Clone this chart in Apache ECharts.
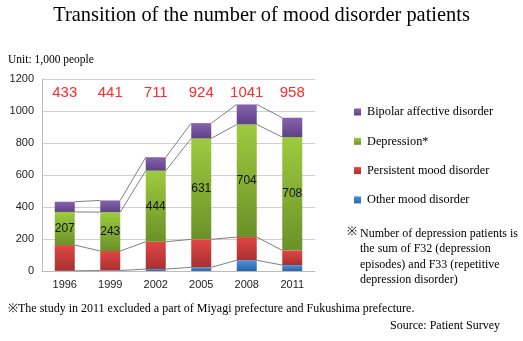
<!DOCTYPE html>
<html><head><meta charset="utf-8">
<script src="https://cdn.jsdelivr.net/npm/echarts@6/dist/echarts.min.js"></script>
<style>html,body{margin:0;padding:0;background:#fff}#c{width:523px;height:341px}</style>
</head><body><div id="c"></div>
<script>
var years = ['1996','1999','2002','2005','2008','2011'];
var otherMood = [1, 3, 12, 23, 67, 37];
var persistent = [161, 122, 171, 175, 145, 92];
var depression = [207, 243, 444, 631, 704, 708];
var bipolar = [64, 73, 84, 95, 125, 121];
var totals = [433, 441, 711, 924, 1041, 958];
var yTicks = [0, 200, 400, 600, 800, 1000, 1200];

var stacks = [otherMood, persistent, depression, bipolar];
var cum = stacks.map(function(_, k){
  return years.map(function(__, i){
    var s = 0; for (var j = 0; j <= k; j++) s += stacks[j][i]; return s;
  });
});
var BW = 20;
function grad(top, bottom){
  return new echarts.graphic.LinearGradient(0,0,0,1,[{offset:0,color:top},{offset:1,color:bottom}]);
}
var serif = '"Liberation Serif","DejaVu Serif",serif';
var sans = '"Liberation Sans",Arial,sans-serif';
var chart = echarts.init(document.getElementById('c'), null, {renderer:'canvas'});
chart.setOption({
  animation:false,
  title:{text:'Transition of the number of mood disorder patients', left:'center', top:1,
    textStyle:{fontFamily:serif, fontSize:20.4, fontWeight:'normal', color:'#000'}},
  grid:{left:42, right:208, top:79, bottom:70},
  legend:{orient:'vertical', left:349, top:101, itemGap:17.3, itemWidth:7, itemHeight:7, icon:'rect',
    data:['Bipolar affective disorder','Depression*','Persistent mood disorder','Other mood disorder'],
    textStyle:{fontFamily:serif, fontSize:12.3, color:'#000', padding:[0,0,0,1]}},
  xAxis:[{type:'category', data:years, axisTick:{show:false},
    axisLine:{lineStyle:{color:'#bbb'}},
    axisLabel:{fontFamily:sans, fontSize:11, color:'#222', margin:8}},
   {type:'category', data:totals.map(String), position:'top', axisTick:{show:false}, axisLine:{show:false},
    axisLabel:{inside:true, margin:6, fontFamily:sans, fontSize:15, color:'#ff2a2a'}}],
  yAxis:{type:'value', min:0, max:1200, interval:200,
    axisLine:{show:true, lineStyle:{color:'#bbb'}}, axisTick:{show:false},
    splitLine:{lineStyle:{color:'#d0d0d0'}},
    axisLabel:{fontFamily:sans, fontSize:11, color:'#222', margin:8,
      formatter:function(v){return yTicks.indexOf(v)>=0?String(v):'';}}},
  series:[
    {name:'Other mood disorder', type:'bar', stack:'a', barWidth:BW, data:otherMood,
      itemStyle:{color:grad('#4b93dc','#2a64a8')}},
    {name:'Persistent mood disorder', type:'bar', stack:'a', barWidth:BW, data:persistent,
      itemStyle:{color:grad('#e24644','#a63131')}},
    {name:'Depression*', type:'bar', stack:'a', barWidth:BW, data:depression,
      itemStyle:{color:grad('#9dcb3f','#6b9128')},
      label:{show:true, position:'inside', fontFamily:sans, fontSize:12, color:'#111'}},
    {name:'Bipolar affective disorder', type:'bar', stack:'a', barWidth:BW, data:bipolar,
      itemStyle:{color:grad('#8464ae','#5f4185')}},
    {type:'custom', silent:true, z:1, data:years.slice(0,-1).map(function(_,i){return [i];}),
      renderItem:function(params, api){
        var i = params.dataIndex;
        var children = cum.map(function(c){
          var a = api.coord([i, c[i]]), b = api.coord([i+1, c[i+1]]);
          return {type:'line', shape:{x1:a[0]+BW/2, y1:a[1], x2:b[0]-BW/2, y2:b[1]},
            style:{stroke:'#7f7f7f', lineWidth:1}};
        });
        return {type:'group', children:children};
      }}
  ],
  graphic:[
    {type:'text', left:8, top:54, style:{text:'Unit: 1,000 people', font:'11.5px '+serif, fill:'#000'}},
    {type:'text', left:347, top:226, style:{text:'※', font:'12px '+serif, fill:'#000'}},
    {type:'text', left:360, top:226, style:{text:'Number of depression patients is\nthe sum of F32 (depression\nepisodes) and F33 (repetitive\ndepression disorder)', font:'12px '+serif, lineHeight:15.5, fill:'#000'}},
    {type:'text', left:8, top:303, style:{text:'※The study in 2011 excluded a part of Miyagi prefecture and Fukushima prefecture.', font:'12px '+serif, fill:'#000'}},
    {type:'text', right:23, top:320, style:{text:'Source: Patient Survey', font:'12px '+serif, fill:'#000'}}
  ]
});
</script></body></html>
